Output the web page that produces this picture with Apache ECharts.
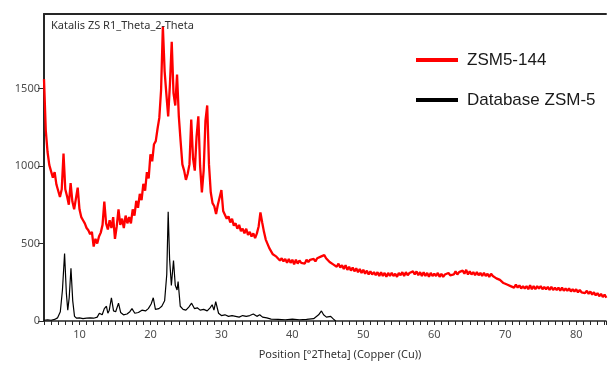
<!DOCTYPE html>
<html>
<head>
<meta charset="utf-8">
<title>Katalis ZS R1_Theta_2-Theta</title>
<script src="https://cdn.jsdelivr.net/npm/echarts@6/dist/echarts.min.js"></script>
<style>
  html, body { margin: 0; padding: 0; background: #fff; }
  #chart { width: 609px; height: 365px; }
</style>
</head>
<body>
<div id="chart"></div>
<script>
// scan of the sample: start angle, step, counts
const redStart = 5;
const redStep = 0.25;
const redCounts = [
  1560, 1230, 1090, 1005,  1000, 925, 960, 880,  880, 800, 850, 1080,  850, 805, 750, 890,
  770, 720, 715, 860,  720, 670, 650, 630,  600, 585, 560, 575,  480, 530, 500, 545,
  570, 620, 770, 630,  590, 650, 600, 670,  530, 610, 720, 620,  660, 600, 680, 630,
  670, 630, 720, 680,  775, 730, 820, 780,  885, 840, 960, 920,  1075, 1030, 1140, 1160,
  1240, 1310, 1490, 1900,  1610, 1460, 1320, 1530,  1800, 1470, 1390, 1590,  1320, 1160, 1010, 970,
  910, 950, 1010, 1300,  1050, 970, 1190, 1320,  1000, 830, 970, 1290,  1390, 1010, 830, 760,
  740, 690, 750, 755,  845, 710, 700, 660,  675, 635, 660, 615,  630, 595, 620, 580,
  595, 565, 595, 555,  575, 545, 565, 535,  565, 610, 700, 635,  575, 525, 515, 470,
  460, 430, 425, 415,  410, 390, 405, 385,  400, 375, 400, 375,  395, 365, 395, 370,
  390, 375, 380, 370,  395, 380, 395, 385,  400, 385, 405, 400,  415, 410, 425, 405,
  405, 380, 390, 365,  375, 350, 370, 345,  360, 335, 360, 330,  350, 325, 345, 320,
  340, 315, 335, 310,  330, 305, 325, 300,  320, 300, 315, 295,  315, 290, 315, 290,
  310, 285, 310, 290,  310, 290, 305, 285,  310, 295, 315, 290,  315, 295, 310, 300,
  320, 300, 320, 295,  315, 290, 315, 290,  310, 285, 310, 290,  305, 290, 310, 285,
  305, 285, 300, 290,  310, 295, 305, 300,  320, 300, 315, 305,  325, 305, 330, 300,
  320, 300, 315, 295,  315, 295, 310, 290,  310, 290, 305, 285,  305, 290, 300, 275,
  285, 265, 270, 245,  255, 235, 245, 225,  235, 215, 235, 215,  230, 210, 225, 210,
  225, 205, 230, 205,  225, 205, 225, 210,  225, 205, 220, 205,  220, 200, 220, 200,
  215, 200, 215, 195,  215, 195, 210, 195,  210, 190, 205, 190,  205, 185, 200, 185,
  195, 180, 195, 175,  190, 170, 185, 165,  180, 160, 175, 155,  170, 150
];

// reference pattern (database)
const dbTheta = [
  5.0, 5.5, 6.0, 6.5, 6.9, 7.3, 7.6, 7.9, 8.15, 8.35, 8.55, 8.8, 9.05, 9.3, 9.6,
  10, 10.5, 11, 11.5, 12, 12.5, 12.8, 13.2, 13.5, 13.8, 14.0, 14.2, 14.5, 14.8,
  15.1, 15.5, 15.8, 16.2, 16.7, 17.1, 17.4, 17.8, 18.3, 18.8, 19.3, 19.7, 20.1,
  20.4, 20.7, 21.2, 21.6, 22.0, 22.3, 22.5, 22.7, 22.95, 23.25, 23.5, 23.75, 23.9,
  24.2, 24.6, 25.0, 25.4, 25.8, 26.2, 26.6, 27.0, 27.5, 28.0, 28.4, 28.7, 28.95,
  29.2, 29.6, 30.0, 30.5, 31, 31.5, 32, 32.5, 33, 33.5, 34, 34.5, 35, 35.4, 35.8,
  36.4, 37, 38, 39, 40, 41, 42, 43, 43.7, 44.1, 44.4, 44.8, 45.4, 45.8, 46.1
];
const dbCounts = [
  5, 8, 5, 10, 20, 60, 200, 435, 180, 70, 150, 340, 130, 30, 18,
  20, 15, 18, 20, 18, 25, 50, 40, 80, 95, 50, 70, 150, 65,
  60, 115, 55, 40, 45, 60, 80, 50, 55, 70, 65, 80, 110,
  150, 75, 80, 95, 130, 300, 705, 400, 230, 390, 230, 200, 255,
  95, 75, 70, 90, 115, 80, 85, 70, 75, 65, 85, 105, 70,
  125, 50, 35, 40, 30, 35, 30, 25, 35, 30, 35, 45, 30, 40, 25,
  20, 12, 10, 8, 12, 8, 10, 15, 40, 65, 40, 25, 30, 12, 0
];

// axis labels
const xLabelValues = [10, 20, 30, 40, 50, 60, 70, 80];
const yLabelValues = [0, 500, 1000, 1500];
const seriesNames = ["ZSM5-144", "Database ZSM-5"];

const redData = redCounts.map((c, i) => [redStart + i * redStep, c]);
const dbData = dbTheta.map((t, i) => [t, dbCounts[i]]);

const chart = echarts.init(document.getElementById("chart"));

const labelFont = "'Noto Sans', 'DejaVu Sans', sans-serif";

chart.setOption({
  animation: false,
  title: {
    text: "Katalis ZS R1_Theta_2-Theta",
    left: 46,
    top: 15,
    textStyle: { fontFamily: labelFont, fontSize: 11, fontWeight: "normal", color: "#333" }
  },
  legend: {
    orient: "vertical",
    left: 411,
    top: 45,
    itemWidth: 42,
    itemHeight: 4,
    itemGap: 20,
    data: [
      { name: seriesNames[0], icon: "rect" },
      { name: seriesNames[1], icon: "rect" }
    ],
    textStyle: {
      fontFamily: "'Liberation Sans', Arial, sans-serif",
      fontSize: 17,
      lineHeight: 20,
      color: "#1a1a1a",
      padding: [0, 0, 0, 4]
    }
  },
  grid: { left: 44, right: 0, top: 14, bottom: 42 },
  xAxis: [
    {
      type: "value",
      min: 5,
      max: 84.2,
      interval: 1,
      name: "Position [°2Theta] (Copper (Cu))",
      nameLocation: "middle",
      nameGap: 28,
      nameTextStyle: { fontFamily: labelFont, fontSize: 11, color: "#333", padding: [0, 0, 0, 30] },
      axisLine: { lineStyle: { color: "#262626", width: 1.5 } },
      axisTick: { length: 4, lineStyle: { color: "#262626" } },
      axisLabel: {
        interval: 0,
        margin: 8,
        fontFamily: labelFont,
        fontSize: 11,
        color: "#4d4d4d",
        formatter: v => (xLabelValues.includes(v) ? String(v) : "")
      },
      splitLine: { show: false }
    },
    {
      // top frame line
      type: "value",
      position: "top",
      min: 5,
      max: 84.2,
      axisLine: { show: true, lineStyle: { color: "#262626", width: 2 } },
      axisTick: { show: false },
      axisLabel: { show: false },
      splitLine: { show: false }
    }
  ],
  yAxis: {
    type: "value",
    min: 0,
    max: 1980,
    interval: 500,
    axisLine: { show: true, lineStyle: { color: "#262626", width: 2 } },
    axisTick: { show: true, length: 6, lineStyle: { color: "#262626" } },
    axisLabel: {
      margin: 4,
      fontFamily: labelFont,
      fontSize: 11,
      color: "#4d4d4d",
      showMaxLabel: false,
      formatter: v => (yLabelValues.includes(v) ? String(v) : "")
    },
    splitLine: { show: false }
  },
  series: [
    {
      name: seriesNames[1],
      type: "line",
      data: dbData,
      showSymbol: false,
      itemStyle: { color: "#000" },
      lineStyle: { color: "#000", width: 1.2 }
    },
    {
      name: seriesNames[0],
      type: "line",
      data: redData,
      showSymbol: false,
      itemStyle: { color: "#ff0000" },
      lineStyle: { color: "#ff0000", width: 2.3 }
    }
  ]
});
</script>
</body>
</html>
